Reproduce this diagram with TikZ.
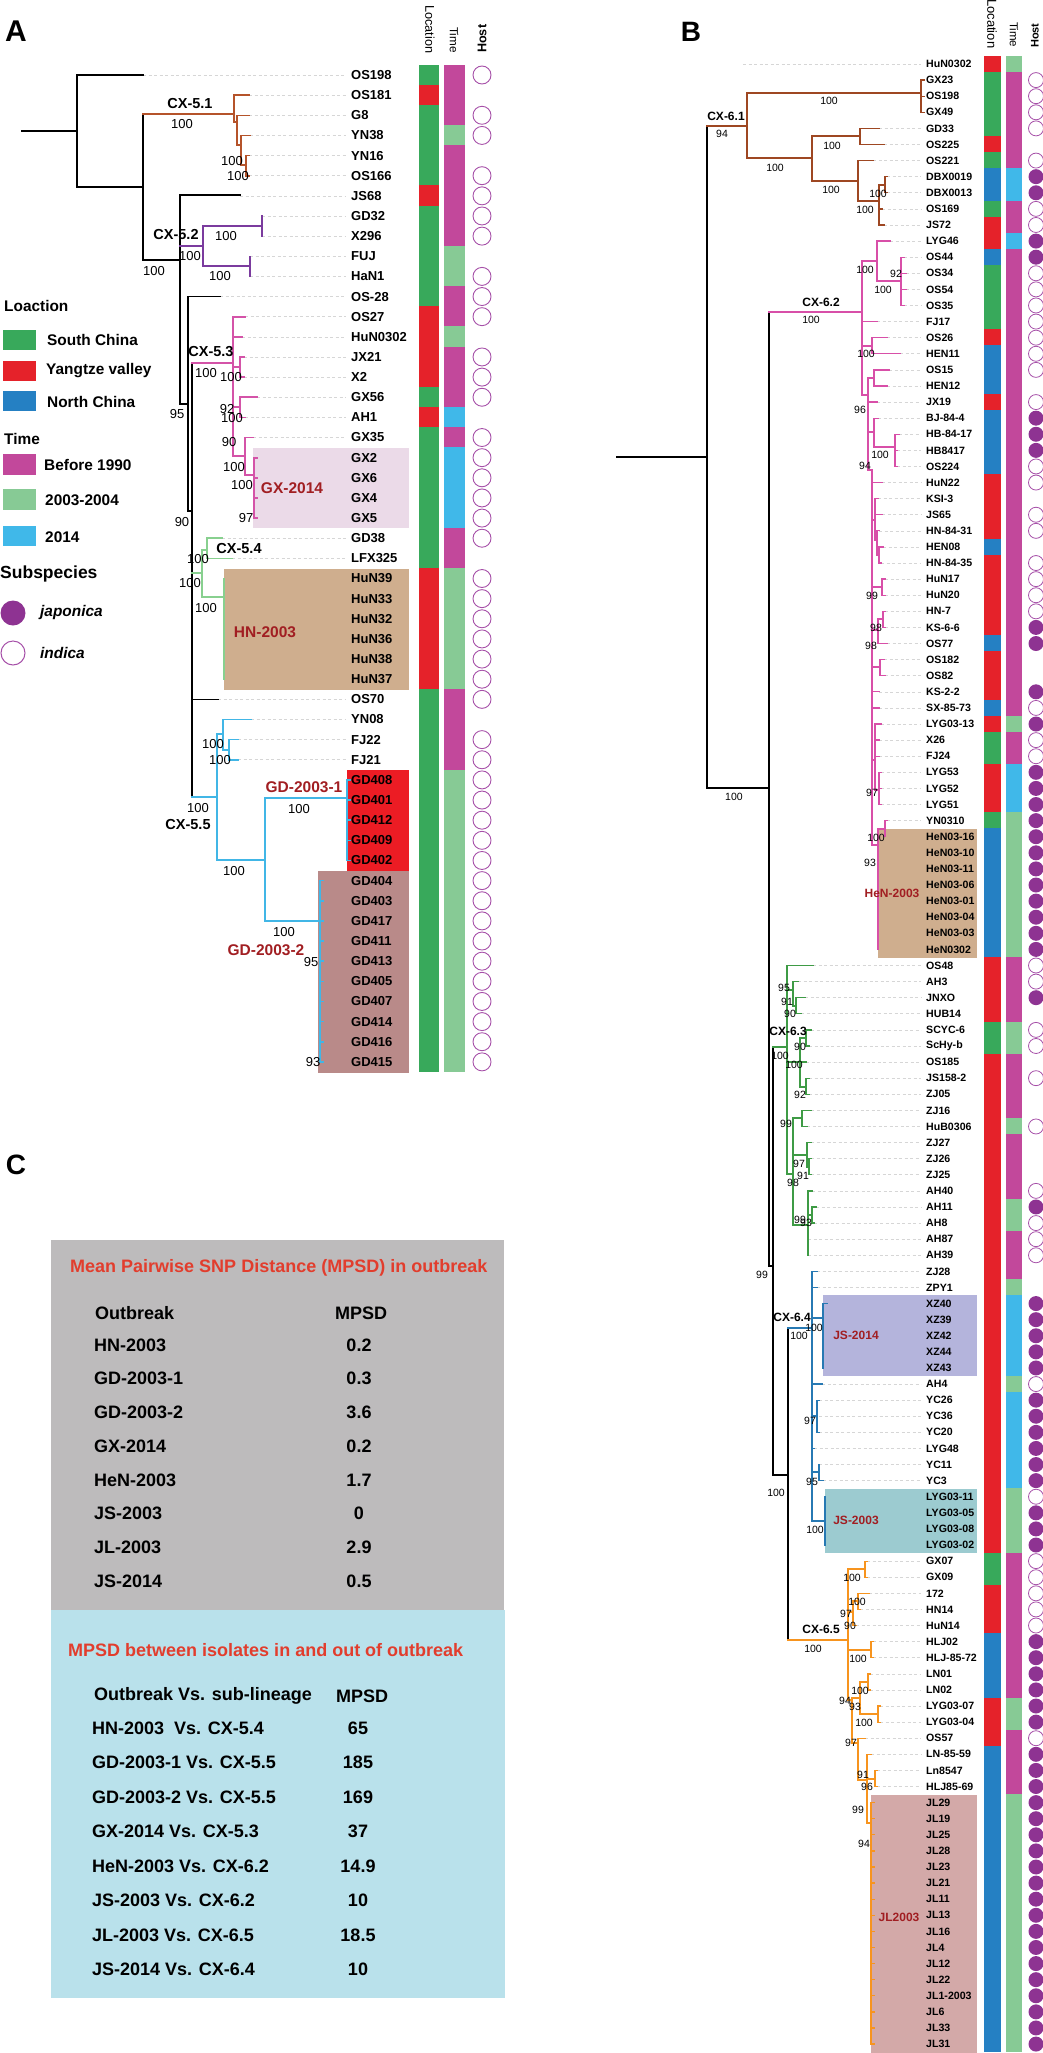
\documentclass[tikz,border=0pt]{standalone}
\usepackage{fontspec}
\setmainfont{Liberation Sans}
\pgfdeclarelayer{lead}
\pgfdeclarelayer{bg}
\pgfsetlayers{lead,bg,main}
\definecolor{Lg}{HTML}{38A95B}
\definecolor{Lr}{HTML}{E5222A}
\definecolor{Lb}{HTML}{2580C3}
\definecolor{Tm}{HTML}{C2489B}
\definecolor{Tl}{HTML}{87CA95}
\definecolor{Tc}{HTML}{40B8E9}
\definecolor{hP}{HTML}{8E3392}
\definecolor{hO}{HTML}{A650A8}
\definecolor{obred}{HTML}{A11E22}
\definecolor{c51}{HTML}{B5532A}
\definecolor{c52}{HTML}{7B3B9E}
\definecolor{c53}{HTML}{D453A8}
\definecolor{c54}{HTML}{88D08F}
\definecolor{c55}{HTML}{41B6E6}
\definecolor{c61}{HTML}{9E4722}
\definecolor{c62}{HTML}{D84FA8}
\definecolor{c63}{HTML}{3E9B45}
\definecolor{c64}{HTML}{2779B3}
\definecolor{c65}{HTML}{F7941E}
\definecolor{bxGX}{HTML}{EBDAE8}
\definecolor{bxHN}{HTML}{CFAE8E}
\definecolor{bxGDa}{HTML}{EC1C24}
\definecolor{bxGDb}{HTML}{B98A89}
\definecolor{bxJSa}{HTML}{B4B4DC}
\definecolor{bxJSb}{HTML}{9CCBD0}
\definecolor{bxJL}{HTML}{D3A9A8}
\definecolor{cgrey}{HTML}{BDBBBC}
\definecolor{cblue}{HTML}{B9E1EB}
\definecolor{ctred}{HTML}{E23D2D}
\newcommand\fsz[1]{\fontsize{#1}{#1}\selectfont}
\begin{document}
\begin{tikzpicture}[x=1pt,y=-1pt,
  tA/.style={line width=1.6pt,line cap=rect},
  tB/.style={line width=1.25pt,line cap=rect},
  lead/.style={draw=black!16,line width=0.6pt,dash pattern=on 3pt off 2.5pt},
  leafA/.style={anchor=west,inner sep=0pt,font=\fsz{13}\bfseries},
  leafB/.style={anchor=west,inner sep=0pt,font=\fsz{10.6}\bfseries},
  bsA/.style={inner sep=0pt,font=\fsz{13}},
  bsB/.style={inner sep=0pt,font=\fsz{10.5}},
  cxA/.style={inner sep=0pt,font=\fsz{14.5}\bfseries},
  cxB/.style={inner sep=0pt,font=\fsz{12}\bfseries},
  obA/.style={inner sep=0pt,font=\fsz{15.5}\bfseries,text=obred},
  obB/.style={inner sep=0pt,font=\fsz{12}\bfseries,text=obred},
  lg/.style={anchor=west,inner sep=0pt,font=\fsz{15.4}\bfseries},
  ct/.style={anchor=west,inner sep=0pt,font=\fsz{18}\bfseries},
  hostA/.style={circle,inner sep=0pt,minimum size=18pt,line width=0.9pt},
  hostB/.style={circle,inner sep=0pt,minimum size=15pt,line width=0.8pt},
  hdr/.style={anchor=west,inner sep=0pt}]
\useasboundingbox (0,0) rectangle (1043,2053);

% ---------------- Panel A ----------------
\node[inner sep=0pt,font=\fsz{30}\bfseries] (pA) at (16,31) {A};
\node[hdr,rotate=-90,font=\fsz{12.7}] (hLocA) at (430,5) {Location};
\node[hdr,rotate=-90,font=\fsz{11.7}] (hTimeA) at (454,27) {Time};
\node[hdr,rotate=90,font=\fsz{12.6}\bfseries] (hHostA) at (482,53) {Host};

\foreach \nm/\tp/\lc/\mc/\hc [count=\i] in {OS198/143/g/m/o, OS181/249/r/m/n, G8/249/g/m/o, YN38/250/g/l/o, YN16/249/g/m/n, OS166/249/g/m/o, JS68/240/r/m/o, GD32/262/g/m/o, X296/262/g/m/o, FUJ/250/g/l/n, HaN1/250/g/l/o, OS-28/220/g/m/o, OS27/245/r/m/o, HuN0302/242/r/l/n, JX21/244/r/m/o, X2/244/r/m/o, GX56/257/g/m/o, AH1/245/r/c/n, GX35/253/g/m/o, GX2/257/g/c/o, GX6/257/g/c/o, GX4/257/g/c/o, GX5/257/g/c/o, GD38/222/g/m/o, LFX325/232/g/m/n, HuN39/224/r/l/o, HuN33/224/r/l/o, HuN32/224/r/l/o, HuN36/224/r/l/o, HuN38/224/r/l/o, HuN37/224/r/l/o, OS70/218/g/m/o, YN08/251/g/m/n, FJ22/238/g/m/o, FJ21/238/g/m/o, GD408/347/g/l/o, GD401/347/g/l/o, GD412/347/g/l/o, GD409/347/g/l/o, GD402/347/g/l/o, GD404/323/g/l/o, GD403/323/g/l/o, GD417/323/g/l/o, GD411/323/g/l/o, GD413/323/g/l/o, GD405/323/g/l/o, GD407/323/g/l/o, GD414/323/g/l/o, GD416/323/g/l/o, GD415/323/g/l/o}{
  \pgfmathsetmacro\yy{75+(\i-1)*20.14}
  \fill[fill=L\lc] (419,{\yy-10.4}) rectangle (439,{\yy+10.4});
  \fill[fill=T\mc] (444,{\yy-10.4}) rectangle (465,{\yy+10.4});
  \if\hc o\node[hostA,draw=hO] (ha\i) at (482,\yy) {};\fi
  \if\hc f\node[hostA,fill=hP] (ha\i) at (482,\yy) {};\fi
  \node[leafA] (la\i) at (351,\yy) {\nm};
  \coordinate (ta\i) at (\tp,\yy);
  \begin{pgfonlayer}{lead}
  \draw[lead] (ta\i) -- ([xshift=-5pt]la\i.west);
  \end{pgfonlayer}
}

% legend
\node[lg] (lgLoc) at (4,306) {Loaction};
\fill[Lg] (3,330) rectangle (36,350);
\node[lg] (lgS) at (47,340) {South China};
\fill[Lr] (3,361) rectangle (36,381);
\node[lg] (lgY) at (46,371) {Yangtze valley};
\fill[Lb] (3,391) rectangle (36,411);
\node[lg] (lgN) at (47,402) {North China};
\node[lg] (lgT) at (4,439) {Time};
\fill[Tm] (3,454) rectangle (36,475);
\node[lg] (lgB) at (44,465) {Before 1990};
\fill[Tl] (3,489) rectangle (36,510);
\node[lg] (lg03) at (45,500) {2003-2004};
\fill[Tc] (3,526) rectangle (36,546);
\node[lg] (lg14) at (45,537) {2014};
\node[lg,font=\fsz{17.5}\bfseries] (lgSub) at (0,574) {Subspecies};
\node[circle,fill=hP,minimum size=25pt,inner sep=0pt] (lgJ) at (13,613) {};
\node[lg,font=\fsz{15.4}\bfseries\itshape] (lgJt) at (40,613) {japonica};
\node[circle,draw=hO,line width=1pt,minimum size=24pt,inner sep=0pt] (lgI) at (13,653) {};
\node[lg,font=\fsz{15.4}\bfseries\itshape] (lgIt) at (40,653) {indica};

% boxes A and B
\begin{pgfonlayer}{bg}
\fill[bxGX] (253,448) rectangle (409,528);
\fill[bxHN] (224,569) rectangle (409,690);
\fill[bxGDa] (347,770) rectangle (409,872);
\fill[bxGDb] (318,871) rectangle (409,1073);
\fill[bxHN] (878,829) rectangle (977,958);
\fill[bxJSa] (823,1295) rectangle (977,1376);
\fill[bxJSb] (825,1489) rectangle (977,1553);
\fill[bxJL] (871,1795) rectangle (977,2053);
\end{pgfonlayer}

% tree A
\draw[tA] (22,131)--(77,131) (143,75)--(77,75)--(77,187)--(143,187) (143,114)--(143,260)--(180,260) (240,195)--(180,195)--(180,404)--(188,404) (220,296.5)--(188,296.5)--(188,511)--(192,511) (192,363)--(192,797) (192,699.3)--(218,699.3);
\draw[tA,c51] (143,114)--(234,114) (234,95.1)--(234,122) (234,95.1)--(249,95.1) (234,122)--(237,122) (237,115.3)--(237,145) (237,115.3)--(249,115.3) (237,145)--(241,145) (241,135.4)--(241,165) (241,135.4)--(250,135.4) (241,165)--(246,165) (246,155.6)--(246,175.7) (246,155.6)--(249,155.6) (246,175.7)--(249,175.7);
\draw[tA,c52] (180,246)--(203,246) (203,226)--(203,266) (203,226)--(262,226) (262,216)--(262,236.1) (203,266)--(250,266) (250,256.3)--(250,276.4);
\draw[tA,c53] (192,363)--(233,363) (233,316.7)--(233,456) (233,316.7)--(245,316.7) (233,336.8)--(242,336.8) (233,367)--(240,367) (240,357)--(240,377.1) (240,357)--(244,357) (240,377.1)--(244,377.1) (233,407)--(240,407) (240,397.2)--(240,417.4) (240,397.2)--(257,397.2) (240,417.4)--(245,417.4) (233,456)--(245,456) (245,437.5)--(245,475) (245,437.5)--(253,437.5) (245,475)--(254,475) (254,457.7)--(254,518.1) (254,457.7)--(257,457.7) (254,477.8)--(257,477.8) (254,497.9)--(257,497.9) (254,518.1)--(257,518.1);
\draw[tA,c54] (192,573)--(202,573) (202,550)--(202,597) (202,550)--(207,550) (207,538.2)--(207,558.4) (207,538.2)--(222,538.2) (207,558.4)--(232,558.4) (202,597)--(224,597) (224,578.5)--(224,679.2);
\draw[tA,c55] (192,797)--(217,797) (217,734)--(217,860) (217,734)--(223,734) (223,719.5)--(223,750) (223,719.5)--(251,719.5) (223,750)--(229,750) (229,739.6)--(229,759.8) (229,739.6)--(238,739.6) (229,759.8)--(238,759.8) (217,860)--(265,860) (265,798)--(265,921) (265,798)--(347,798) (347,779.9)--(347,860.5) (265,921)--(320,921) (320,880.6)--(320,1061.9);
\foreach \i in {36,...,40} \draw[tA,c55] (347,{75+(\i-1)*20.14})--(350,{75+(\i-1)*20.14});
\foreach \i in {41,...,50} \draw[tA,c55] (320,{75+(\i-1)*20.14})--(323,{75+(\i-1)*20.14});

\foreach \x/\y/\t [count=\k] in {182/124/100, 232/161/100, 238/176/100, 226/236/100, 190/256/100, 154/271/100, 220/276/100, 206/373/100, 231/377/100, 177/414/95, 227/409/92, 232/418/100, 229/442/90, 234/467/100, 242/485/100, 182/522/90, 246/518/97, 198/559/100, 190/583/100, 206/608/100, 213/744/100, 220/760/100, 198/808/100, 299/809/100, 234/871/100, 284/932/100, 311/962/95, 313/1062/93}
  \node[bsA] (bsa\k) at (\x,\y) {\t};
\node[cxA] (cx51) at (190,104) {CX-5.1};
\node[cxA] (cx52) at (176,235) {CX-5.2};
\node[cxA] (cx53) at (211,352) {CX-5.3};
\node[cxA] (cx54) at (239,549) {CX-5.4};
\node[cxA] (cx55) at (188,824) {CX-5.5};
\node[obA] (obGX) at (292,488) {GX-2014};
\node[obA] (obHN) at (265,632) {HN-2003};
\node[obA] (obGDa) at (304,787) {GD-2003-1};
\node[obA] (obGDb) at (266,950) {GD-2003-2};

% ---------------- Panel B ----------------
\node[inner sep=0pt,font=\fsz{28}\bfseries] (pB) at (691,32) {B};
\node[hdr,rotate=-90,font=\fsz{13}] (hLocB) at (992,-1) {Location};
\node[hdr,rotate=-90,font=\fsz{11.5}] (hTimeB) at (1014,22) {Time};
\node[hdr,rotate=90,font=\fsz{11}\bfseries] (hHostB) at (1035,48) {Host};

\foreach \nm/\tp/\lc/\mc/\hc [count=\i] in {HuN0302/743/r/l/n, GX23/924/g/m/o, OS198/924/g/m/o, GX49/924/g/m/o, GD33/879/g/m/o, OS225/884/r/m/n, OS221/873/g/m/o, DBX0019/887/b/c/f, DBX0013/887/b/c/f, OS169/882/g/m/o, JS72/884/r/m/o, LYG46/890/r/c/f, OS44/904/b/m/f, OS34/906/g/m/o, OS54/906/g/m/o, OS35/904/g/m/o, FJ17/877/g/m/o, OS26/887/r/m/o, HEN11/900/b/m/o, OS15/889/b/m/o, HEN12/887/b/m/n, JX19/877/r/m/o, BJ-84-4/878/b/m/f, HB-84-17/899/b/m/f, HB8417/897/b/m/f, OS224/897/b/m/o, HuN22/882/r/m/o, KSI-3/878/r/m/n, JS65/882/r/m/o, HN-84-31/879/r/m/o, HEN08/883/b/m/n, HN-84-35/881/r/m/o, HuN17/885/r/m/o, HuN20/885/r/m/o, HN-7/885/r/m/o, KS-6-6/885/r/m/f, OS77/887/b/m/f, OS182/884/r/m/n, OS82/885/r/m/n, KS-2-2/879/r/m/f, SX-85-73/879/b/m/o, LYG03-13/881/r/l/f, X26/879/g/m/o, FJ24/879/g/m/o, LYG53/881/r/c/f, LYG52/881/r/c/f, LYG51/881/r/c/f, YN0310/887/g/l/f, HeN03-16/878/b/l/f, HeN03-10/878/b/l/f, HeN03-11/878/b/l/f, HeN03-06/878/b/l/f, HeN03-01/878/b/l/f, HeN03-04/878/b/l/f, HeN03-03/878/b/l/f, HeN0302/878/b/l/f, OS48/813/r/m/o, AH3/798/r/m/o, JNXO/805/r/m/f, HUB14/801/r/m/n, SCYC-6/811/g/l/o, ScHy-b/809/g/l/o, OS185/806/r/m/n, JS158-2/809/r/m/o, ZJ05/809/r/m/n, ZJ16/811/r/m/n, HuB0306/807/r/l/o, ZJ27/811/r/m/n, ZJ26/811/r/m/n, ZJ25/811/r/m/n, AH40/812/r/m/o, AH11/816/r/l/f, AH8/814/r/l/o, AH87/808/r/m/o, AH39/808/r/m/o, ZJ28/817/r/m/n, ZPY1/817/r/l/n, XZ40/827/r/c/f, XZ39/823/r/c/f, XZ42/823/r/c/f, XZ44/823/r/c/f, XZ43/823/r/c/f, AH4/822/r/l/o, YC26/819/r/c/f, YC36/819/r/c/f, YC20/819/r/c/f, LYG48/814/r/c/f, YC11/819/r/c/f, YC3/823/r/c/f, LYG03-11/825/r/l/o, LYG03-05/825/r/l/f, LYG03-08/825/r/l/f, LYG03-02/825/r/l/f, GX07/867/g/m/o, GX09/867/g/m/o, 172/869/r/m/o, HN14/860/r/m/o, HuN14/856/r/m/o, HLJ02/873/b/m/f, HLJ-85-72/873/b/m/f, LN01/870/b/m/f, LN02/870/b/m/f, LYG03-07/880/r/l/f, LYG03-04/880/r/l/f, OS57/865/r/m/o, LN-85-59/871/b/m/f, Ln8547/877/b/m/f, HLJ85-69/877/b/m/f, JL29/873/b/l/f, JL19/873/b/l/f, JL25/873/b/l/f, JL28/873/b/l/f, JL23/873/b/l/f, JL21/873/b/l/f, JL11/873/b/l/f, JL13/873/b/l/f, JL16/873/b/l/f, JL4/873/b/l/f, JL12/873/b/l/f, JL22/873/b/l/f, JL1-2003/873/b/l/f, JL6/873/b/l/f, JL33/873/b/l/f, JL31/873/b/l/f}{
  \pgfmathsetmacro\yy{64+(\i-1)*16.098}
  \fill[fill=L\lc] (984,{\yy-8.3}) rectangle (1001,{\yy+8.3});
  \fill[fill=T\mc] (1006,{\yy-8.3}) rectangle (1022,{\yy+8.3});
  \if\hc o\node[hostB,draw=hO] (hb\i) at (1036,\yy) {};\fi
  \if\hc f\node[hostB,fill=hP] (hb\i) at (1036,\yy) {};\fi
  \node[leafB] (lb\i) at (926,\yy) {\nm};
  \coordinate (tb\i) at (\tp,\yy);
  \begin{pgfonlayer}{lead}
  \draw[lead] (tb\i) -- ([xshift=-5pt]lb\i.west);
  \end{pgfonlayer}
}

% tree B
\draw[tB] (617,457)--(707,457) (707,126)--(707,788)--(769,788) (769,312)--(769,1266)--(773,1266) (773,1047)--(773,1475)--(788,1475) (788,1328)--(788,1640);
\draw[tB,c61] (707,126)--(747,126) (747,93)--(747,158) (747,93)--(921,93) (921,80.1)--(921,112.3) (921,80.1)--(924,80.1) (921,96.2)--(924,96.2) (921,112.3)--(924,112.3) (747,158)--(812,158) (812,136)--(812,181) (812,136)--(860,136) (860,128.4)--(860,144.5) (860,128.4)--(879,128.4) (860,144.5)--(884,144.5) (812,181)--(858,181) (858,160.6)--(858,201) (858,160.6)--(873,160.6) (858,201)--(879,201) (879,185)--(879,225) (879,185)--(885,185) (885,176.7)--(885,192.8) (885,176.7)--(887,176.7) (885,192.8)--(887,192.8) (879,208.9)--(882,208.9) (879,225)--(884,225);
\draw[tB,c62] (769,312)--(862,312) (862,261)--(862,395) (862,261)--(877,261) (877,241.1)--(877,281) (877,241.1)--(890,241.1) (877,281)--(901,281) (901,257.2)--(901,305.5) (901,257.2)--(904,257.2) (901,273.3)--(906,273.3) (901,289.4)--(906,289.4) (901,305.5)--(904,305.5) (862,321.6)--(877,321.6) (862,346)--(872,346) (872,337.7)--(872,353.8) (872,337.7)--(887,337.7) (872,353.8)--(900,353.8) (862,395)--(868,395) (868,378)--(868,470) (868,378)--(874,378) (874,369.9)--(874,386) (874,369.9)--(889,369.9) (874,386)--(887,386) (868,402)--(877,402) (868,432)--(874,432) (874,418.2)--(874,447) (874,418.2)--(878,418.2) (874,447)--(895,447) (895,434.2)--(895,466.4) (895,434.2)--(899,434.2) (895,450.3)--(897,450.3) (895,466.4)--(897,466.4) (868,470)--(872,470) (872,470)--(872,845)
 (872,482.5)--(882,482.5) (872,520)--(875,520) (875,498.6)--(875,540) (875,498.6)--(878,498.6) (875,514.7)--(882,514.7) (875,540)--(877,540) (877,530.8)--(877,555) (877,530.8)--(879,530.8) (877,555)--(879,555) (879,546.9)--(879,563) (879,546.9)--(883,546.9) (879,563)--(881,563) (872,587)--(882,587) (882,579.1)--(882,595.2) (882,579.1)--(885,579.1) (882,595.2)--(885,595.2) (872,630)--(878,630) (878,619)--(878,643.5) (878,643.5)--(887,643.5) (878,619)--(883,619) (883,611.3)--(883,627.4) (883,611.3)--(885,611.3) (883,627.4)--(885,627.4) (872,667)--(880,667) (880,659.6)--(880,675.7) (880,659.6)--(884,659.6) (880,675.7)--(885,675.7) (872,691.8)--(879,691.8) (872,707.9)--(879,707.9) (872,760)--(875,760) (875,724)--(875,790) (875,724)--(881,724) (875,740.1)--(879,740.1) (875,756.2)--(879,756.2) (875,790)--(879,790) (879,772.3)--(879,804.5) (879,772.3)--(881,772.3) (879,788.4)--(881,788.4) (879,804.5)--(881,804.5) (872,845)--(878,845) (878,829)--(878,949.4) (878,829)--(885,829) (885,820.6)--(885,836.7) (885,820.6)--(887,820.6);
\draw[tB,c63] (773,1047)--(787,1047) (787,965.5)--(787,1174) (787,965.5)--(813,965.5) (787,990)--(793,990) (793,981.6)--(793,1006) (793,981.6)--(798,981.6) (793,1006)--(796,1006) (796,997.7)--(796,1013.8) (796,997.7)--(805,997.7) (796,1013.8)--(801,1013.8) (787,1062)--(800,1062) (800,1038)--(800,1087) (800,1038)--(806,1038) (806,1029.9)--(806,1046) (806,1029.9)--(811,1029.9) (806,1046)--(809,1046) (800,1062.1)--(806,1062.1) (800,1087)--(806,1087) (806,1078.2)--(806,1094.3) (806,1078.2)--(809,1078.2) (806,1094.3)--(809,1094.3) (787,1174)--(793,1174) (793,1118)--(793,1225) (793,1118)--(802,1118) (802,1110.4)--(802,1126.5) (802,1110.4)--(811,1110.4) (802,1126.5)--(807,1126.5) (793,1155)--(807,1155) (807,1142.6)--(807,1167) (807,1142.6)--(811,1142.6) (807,1167)--(809,1167) (809,1158.7)--(809,1174.8) (809,1158.7)--(811,1158.7) (809,1174.8)--(811,1174.8) (793,1225)--(808,1225) (808,1190.9)--(808,1255.3) (808,1190.9)--(812,1190.9) (808,1215)--(812,1215) (812,1207)--(812,1223.1) (812,1207)--(816,1207) (812,1223.1)--(814,1223.1);
\draw[tB,c64] (788,1328)--(812,1328) (812,1271.4)--(812,1521) (812,1271.4)--(817,1271.4) (812,1287.5)--(817,1287.5) (812,1318)--(823,1318) (823,1303.6)--(823,1368) (823,1303.6)--(827,1303.6) (812,1384.1)--(822,1384.1) (812,1416)--(817,1416) (817,1400.2)--(817,1432.4) (817,1400.2)--(819,1400.2) (817,1432.4)--(819,1432.4) (812,1448.5)--(814,1448.5) (812,1472)--(819,1472) (819,1464.6)--(819,1480.7) (819,1480.7)--(823,1480.7) (812,1521)--(825,1521) (825,1496.8)--(825,1545.1);
\draw[tB,c65] (788,1640)--(848,1640) (848,1569)--(848,1700) (848,1569)--(865,1569) (865,1561.2)--(865,1577.3) (865,1561.2)--(867,1561.2) (865,1577.3)--(867,1577.3) (848,1612)--(853,1612) (853,1601)--(853,1625.6) (853,1601)--(858,1601) (858,1593.4)--(858,1609.5) (858,1593.4)--(869,1593.4) (858,1609.5)--(860,1609.5) (853,1625.6)--(856,1625.6) (848,1650)--(871,1650) (871,1641.7)--(871,1657.8) (871,1641.7)--(873,1641.7) (871,1657.8)--(873,1657.8) (848,1700)--(852,1700) (852,1698)--(852,1743) (852,1698)--(860,1698) (860,1682)--(860,1714) (860,1682)--(868,1682) (868,1673.9)--(868,1690) (868,1673.9)--(870,1673.9) (868,1690)--(870,1690) (860,1714)--(878,1714) (878,1706.1)--(878,1722.2) (878,1706.1)--(880,1706.1) (878,1722.2)--(880,1722.2) (852,1743)--(858,1743) (858,1738.3)--(858,1780) (858,1738.3)--(865,1738.3) (858,1780)--(867,1780) (867,1754.4)--(867,1823) (867,1754.4)--(871,1754.4) (867,1779)--(875,1779) (875,1770.5)--(875,1786.6) (875,1770.5)--(877,1770.5) (875,1786.6)--(877,1786.6) (867,1823)--(871,1823) (871,1802.7)--(871,2044.2);
\foreach \i in {109,...,124} \draw[tB,c65] (871,{64+(\i-1)*16.098})--(874,{64+(\i-1)*16.098});

\foreach \x/\y/\t [count=\k] in {722/134/94, 829/101/100, 775/168/100, 832/146/100, 831/190/100, 878/194/100, 865/210/100, 734/797/100, 811/320/100, 865/270/100, 896/274/92, 883/290/100, 866/354/100, 860/410/96, 880/455/100, 865/466/94, 872/596/99, 876/628/98, 871/646/98, 872/793/97, 876/838/100, 870/863/93, 784/988/95, 787/1002/91, 790/1014/90, 800/1047/90, 780/1056/100, 794/1065/100, 800/1095/92, 786/1124/99, 799/1164/97, 803/1176/91, 793/1183/98, 800/1220/99, 806/1223/93, 762/1275/99, 814/1328/100, 799/1336/100, 810/1421/97, 812/1482/95, 776/1493/100, 815/1530/100, 852/1578/100, 857/1602/100, 846/1614/97, 850/1626/90, 813/1649/100, 858/1659/100, 860/1691/100, 845/1701/94, 855/1707/93, 864/1723/100, 851/1743/97, 863/1775/91, 867/1787/96, 858/1810/99, 864/1844/94}
  \node[bsB] (bsb\k) at (\x,\y) {\t};
\node[cxB] (cx61) at (726,116) {CX-6.1};
\node[cxB] (cx62) at (821,302) {CX-6.2};
\node[cxB] (cx63) at (788,1031) {CX-6.3};
\node[cxB] (cx64) at (792,1317) {CX-6.4};
\node[cxB] (cx65) at (821,1629) {CX-6.5};
\node[obB] (obHeN) at (892,893) {HeN-2003};
\node[obB] (obJSa) at (856,1335) {JS-2014};
\node[obB] (obJSb) at (856,1520) {JS-2003};
\node[obB] (obJL) at (899,1917) {JL2003};

% ---------------- Panel C ----------------
\node[inner sep=0pt,font=\fsz{28}\bfseries] (pC) at (16,1165) {C};
\fill[cgrey] (51,1240) rectangle (504,1610);
\fill[cblue] (51,1610) rectangle (505,1998);
\node[ct,text=ctred] (c1) at (70,1268) {Mean Pairwise SNP Distance (MPSD) in outbreak};
\node[ct] (c1h) at (95,1313) {Outbreak};
\node[ct] (c1m) at (335,1313) {MPSD};
\foreach \nm/\v [count=\k] in {HN-2003/0.2, GD-2003-1/0.3, GD-2003-2/3.6, GX-2014/0.2, HeN-2003/1.7, JS-2003/0, JL-2003/2.9, JS-2014/0.5}{
  \pgfmathsetmacro\yy{1345+(\k-1)*33.7}
  \node[ct] (cr\k) at (94,\yy) {\nm};
  \node[ct,anchor=center] (cv\k) at (359,\yy) {\v};
}
\node[ct,text=ctred] (c2) at (68,1650) {MPSD between isolates in and out of outbreak};
\node[ct] (c2h) at (94,1696) {Outbreak Vs. sub-lineage};
\node[ct] (c2m) at (336,1696) {MPSD};
\foreach \nm/\v [count=\k] in {HN-2003~~Vs. CX-5.4/65, GD-2003-1 Vs. CX-5.5/185, GD-2003-2 Vs. CX-5.5/169, GX-2014 Vs. CX-5.3/37, HeN-2003 Vs. CX-6.2/14.9, JS-2003 Vs. CX-6.2/10, JL-2003 Vs. CX-6.5/18.5, JS-2014 Vs. CX-6.4/10}{
  \pgfmathsetmacro\yy{1728+(\k-1)*34.5}
  \node[ct] (dr\k) at (92,\yy) {\nm};
  \node[ct,anchor=center] (dv\k) at (358,\yy) {\v};
}
\end{tikzpicture}
\end{document}
